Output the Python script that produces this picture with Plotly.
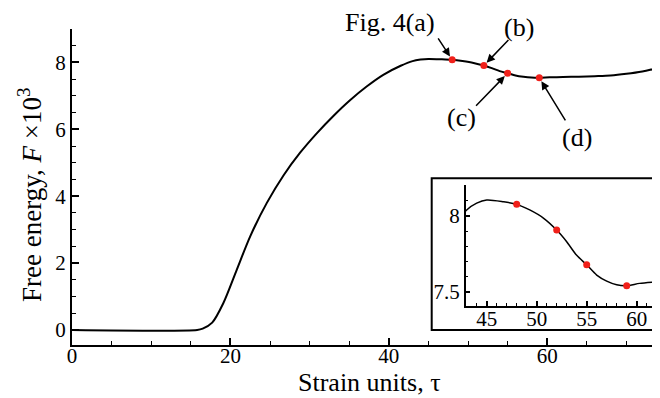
import plotly.graph_objects as go

# ---- data ----
strain = [0, 15.8, 16.5, 17.7, 19.1, 20.8, 22.5, 24.6, 26.7, 28.8, 30.9, 33.0, 35.1,
          37.2, 39.3, 41.5, 43.0, 44.0, 45.0, 46.7, 48.0, 49.3, 50.7, 52.0, 53.0,
          54.0, 55.0, 56.0, 57.0, 58.0, 59.0, 60.3, 62.0, 64.0, 66.0, 68.0, 70.0,
          72.0, 73.0, 74.6]
energy = [0, 0, 0.04, 0.22, 0.8, 1.8, 2.8, 3.8, 4.62, 5.3, 5.88, 6.4, 6.87,
          7.28, 7.63, 7.9, 8.04, 8.085, 8.106, 8.094, 8.077, 8.04, 7.985, 7.907, 7.83,
          7.74, 7.678, 7.61, 7.57, 7.546, 7.54, 7.555, 7.565, 7.575, 7.59, 7.61, 7.66,
          7.73, 7.78, 7.88]
snap_x = [48, 52, 55, 59]
snap_y = [8.077, 7.907, 7.678, 7.54]
snap_labels = ["Fig. 4(a)", "(b)", "(c)", "(d)"]

main_ticks = [0, 20, 40, 60]
main_yticks = [0, 2, 4, 6, 8]
inset_xticks = [45, 50, 55, 60]
inset_yticks = [7.5, 8]

# ---- geometry helpers (reference pixel -> paper); page body adds an 8px offset ----
W, H = 660, 398
OFF = 8
L, R, T, B = 64, 0, 21, 61
PW, PH = W - L - R, H - T - B


def px(x):
    return (x - OFF - L) / PW


def py(y):
    return (H - B - (y - OFF)) / PH


FONT = "Times New Roman, Liberation Serif, Times, serif"

fig = go.Figure()
fig.add_trace(go.Scatter(x=strain, y=energy, mode="lines",
                         line=dict(color="black", width=2, shape="spline", smoothing=0.8),
                         xaxis="x", yaxis="y", showlegend=False, hoverinfo="skip"))
fig.add_trace(go.Scatter(x=snap_x, y=snap_y, mode="markers",
                         marker=dict(color="#f0201a", size=7),
                         xaxis="x", yaxis="y", showlegend=False))
# inset
fig.add_trace(go.Scatter(x=strain, y=energy, mode="lines",
                         line=dict(color="black", width=1.5, shape="spline", smoothing=0.8),
                         xaxis="x2", yaxis="y2", showlegend=False, hoverinfo="skip"))
fig.add_trace(go.Scatter(x=snap_x, y=snap_y, mode="markers",
                         marker=dict(color="#f0201a", size=7),
                         xaxis="x2", yaxis="y2", showlegend=False))


def axis_common():
    return dict(showgrid=False, zeroline=False, showline=True, linecolor="black",
                ticks="inside", tickcolor="black", mirror=False,
                tickfont=dict(family=FONT, size=21, color="black"))


fig.update_layout(
    width=W, height=H,
    margin=dict(l=L, r=R, t=T, b=B),
    paper_bgcolor="white", plot_bgcolor="white",
    font=dict(family=FONT, color="black"),
    xaxis=dict(**axis_common(), range=[0, 75.25], domain=[0, 1], linewidth=2,
               tickvals=main_ticks, ticklen=7, tickwidth=2, ticklabelstandoff=-9,
               minor=dict(dtick=5, ticks="inside", ticklen=4, tickwidth=1, tickcolor="black")),
    yaxis=dict(**axis_common(), range=[-0.45, 9.0], domain=[0, 1], linewidth=2,
               tickvals=main_yticks, ticklen=7, tickwidth=2,
               minor=dict(dtick=0.5, ticks="inside", ticklen=4, tickwidth=1, tickcolor="black")),
    xaxis2=dict(**axis_common(), anchor="y2", range=[42.9, 63.13],
                domain=[px(465.7), 1.0], linewidth=1.5,
                tickvals=inset_xticks, ticklen=5, tickwidth=1.5, ticklabelstandoff=-7,
                minor=dict(dtick=1, ticks="inside", ticklen=3, tickwidth=1, tickcolor="black")),
    yaxis2=dict(**axis_common(), anchor="x2", range=[7.4056, 8.2048],
                domain=[py(306), py(185)], linewidth=1.5,
                tickvals=inset_yticks, ticklen=5, tickwidth=1.5,
                minor=dict(dtick=0.1, ticks="inside", ticklen=3, tickwidth=1, tickcolor="black")),
)

# inset frame
fig.add_shape(type="rect", xref="paper", yref="paper",
              x0=px(431.7), x1=px(675), y0=py(330), y1=py(178.3),
              line=dict(color="black", width=2), fillcolor="rgba(0,0,0,0)", layer="below")

# axis titles as annotations
fig.add_annotation(text="Strain units, τ", xref="paper", yref="paper",
                   x=px(369), y=py(382), showarrow=False, xanchor="center", yanchor="middle",
                   font=dict(family=FONT, size=26, color="black"))
fig.add_annotation(text="Free energy, <i>F</i> ×10<sup>3</sup>", xref="paper", yref="paper",
                   x=px(30), y=py(195), showarrow=False, textangle=-90,
                   xanchor="center", yanchor="middle",
                   font=dict(family=FONT, size=27, color="black"))

# arrows and labels
tails = [(-15, -23), (26, -27), (-33, 34), (27, 44)]
label_pos = [(390, 23), (519, 28), (461, 117), (577, 137)]
for xv, yv, (axo, ayo), lab, (lx, ly) in zip(snap_x, snap_y, tails, snap_labels, label_pos):
    fig.add_annotation(x=xv, y=yv, xref="x", yref="y", text="", showarrow=True,
                       ax=axo, ay=ayo, arrowhead=2, arrowsize=1.1, arrowwidth=1.5,
                       arrowcolor="black", standoff=4)
    fig.add_annotation(text=lab, xref="paper", yref="paper", x=px(lx), y=py(ly),
                       showarrow=False, xanchor="center", yanchor="middle",
                       font=dict(family=FONT, size=26, color="black"))

fig.write_html("out.html")
